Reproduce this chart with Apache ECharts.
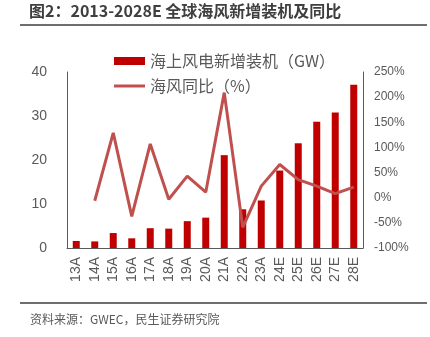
<!DOCTYPE html>
<html><head><meta charset="utf-8">
<script src="https://cdn.jsdelivr.net/npm/echarts@6/dist/echarts.min.js"></script>
<style>html,body{margin:0;padding:0;background:#fff}#c{width:430px;height:337px}</style>
</head><body><div id="c"></div>
<script>
const categories = ['13A','14A','15A','16A','17A','18A','19A','20A','21A','22A','23A','24E','25E','26E','27E','28E'];
const installs = [1.6, 1.5, 3.4, 2.2, 4.5, 4.4, 6.1, 6.9, 21.1, 8.8, 10.8, 17.6, 23.8, 28.7, 30.8, 37.1];
const yoy = [null, -6, 129, -37, 107, -3, 43, 11, 209, -59, 23, 66, 36, 23, 8, 21];
const leftTicks = {min: 0, max: 40, interval: 10};
const rightTicks = {min: -100, max: 250, interval: 50};
const barName = '海上风电新增装机（GW）';
const lineName = '海风同比（%）';
const titleText = '图2：2013-2028E 全球海风新增装机及同比';
const sourceText = '资料来源：GWEC，民生证券研究院';

const FONT = '"Noto Sans CJK SC", "Noto Sans", sans-serif';
const chart = echarts.init(document.getElementById('c'), null, {renderer: 'canvas'});
chart.setOption({
  animation: false,
  textStyle: {fontFamily: FONT},
  graphic: [
    {type: 'text', left: 29, top: 3, style: {text: titleText, font: 'bold 16px ' + FONT, fill: '#3f3f3f'}},
    {type: 'rect', shape: {x: 20, y: 24, width: 407, height: 2}, style: {fill: '#6e6e6e'}},
    {type: 'rect', shape: {x: 20, y: 302, width: 407, height: 2}, style: {fill: '#6e6e6e'}},
    {type: 'text', left: 30, top: 313, style: {text: sourceText, font: '12px ' + FONT, fill: '#595959'}}
  ],
  legend: {
    orient: 'vertical', left: 109, top: 48, itemWidth: 31, itemHeight: 8, itemGap: 9,
    textStyle: {fontSize: 16, color: '#595959', fontFamily: FONT},
    data: [
      {name: barName, icon: 'rect'},
      {name: lineName, icon: 'path://M0,0 L31,0 L31,3 L0,3 Z'}
    ]
  },
  grid: {left: 67, right: 67, top: 72, bottom: 89, containLabel: false},
  xAxis: {
    type: 'category', data: categories,
    axisLine: {lineStyle: {color: '#595959', width: 1}},
    axisTick: {show: false},
    axisLabel: {rotate: 90, fontSize: 14, color: '#595959', margin: 9, fontFamily: 'Liberation Sans, Arial, sans-serif'}
  },
  yAxis: [
    {type: 'value', min: leftTicks.min, max: leftTicks.max, interval: leftTicks.interval,
     axisLine: {show: true, lineStyle: {color: '#595959'}}, axisTick: {show: false}, splitLine: {show: false},
     axisLabel: {fontSize: 14, color: '#595959', margin: 20, fontFamily: 'Liberation Sans, Arial, sans-serif'}},
    {type: 'value', min: rightTicks.min, max: rightTicks.max, interval: rightTicks.interval,
     axisLine: {show: true, lineStyle: {color: '#595959'}}, axisTick: {show: false}, splitLine: {show: false},
     axisLabel: {fontSize: 12, color: '#595959', margin: 11, formatter: '{value}%', fontFamily: 'Liberation Sans, Arial, sans-serif'}}
  ],
  series: [
    {name: barName, type: 'bar', data: installs, barWidth: 7, itemStyle: {color: '#C00000'}},
    {name: lineName, type: 'line', yAxisIndex: 1, data: yoy, symbol: 'none', showSymbol: false,
     lineStyle: {color: '#C0504D', width: 3}, itemStyle: {color: '#C0504D'}}
  ]
});
</script></body></html>
